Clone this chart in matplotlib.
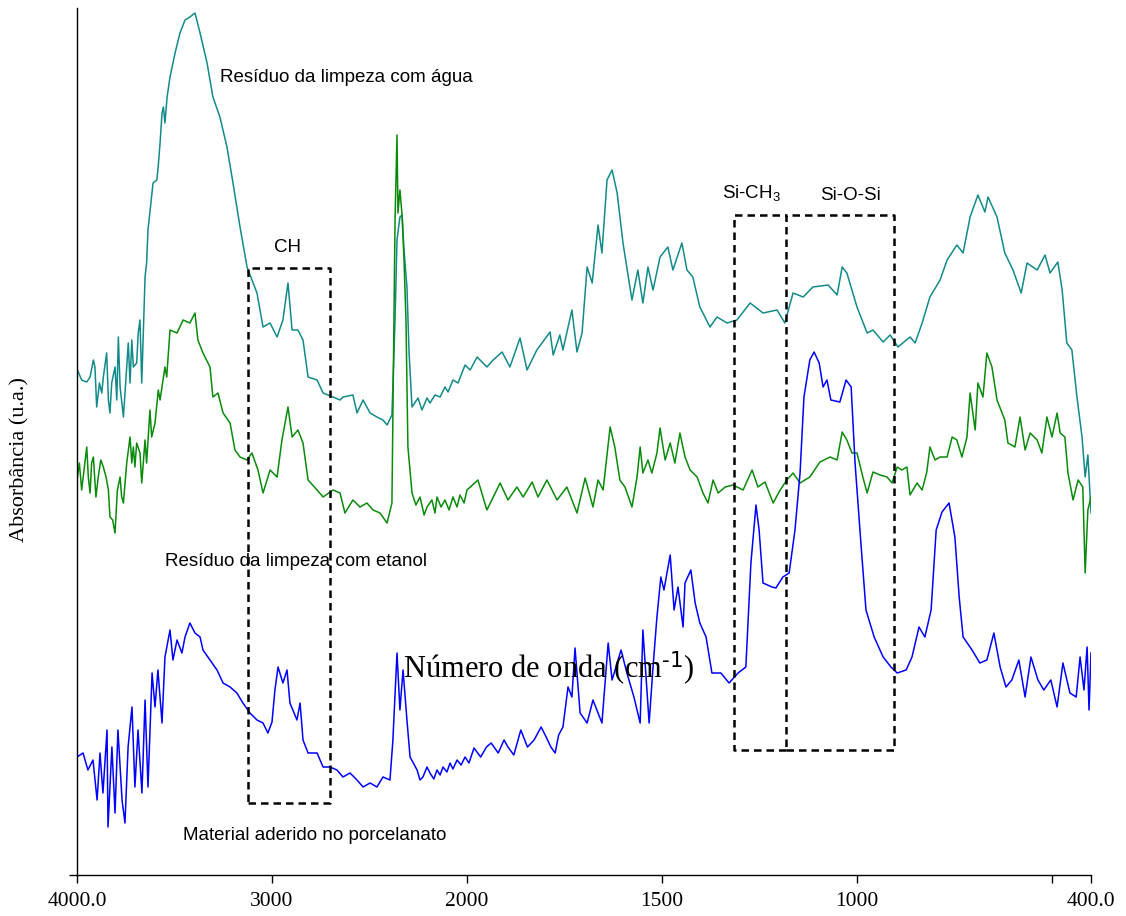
import numpy as np
import matplotlib
matplotlib.use("Agg")
import matplotlib.pyplot as plt
from matplotlib.ticker import FixedLocator

plt.rcParams['mathtext.default'] = 'regular'

# ---------------- data (wavenumber in cm-1, absorbance in a.u.) ----------------
agua_wn = [4000, 3976, 3950, 3933, 3916, 3908, 3899, 3885, 3873, 3865,
           3848, 3839, 3831, 3822, 3805, 3796, 3788, 3779, 3762, 3754,
           3737, 3728, 3719, 3711, 3694, 3686, 3677, 3668, 3660, 3651,
           3643, 3636, 3610, 3591, 3585, 3574, 3564, 3557, 3549, 3538,
           3523, 3497, 3472, 3446, 3421, 3395, 3369, 3333, 3303,
           3267, 3231, 3200, 3164, 3128, 3077, 3046, 3010, 2974, 2944,
           2918, 2897, 2867, 2841, 2815, 2769, 2738, 2687, 2651, 2636,
           2585, 2564, 2533, 2497, 2462, 2431, 2410, 2385, 2369, 2359,
           2344, 2333, 2323, 2308, 2297, 2282, 2251, 2231, 2205, 2190,
           2164, 2138, 2113, 2097, 2072, 2046, 2010, 1992,
           1974, 1949, 1933, 1910, 1890, 1864, 1846, 1821,
           1787, 1779, 1762, 1754, 1731, 1718, 1705, 1692, 1679, 1664,
           1654, 1641, 1628, 1615, 1600, 1577, 1562, 1549, 1536, 1523,
           1505, 1485, 1472, 1449, 1436, 1421, 1403, 1377, 1359, 1333,
           1308, 1274, 1241, 1205, 1185, 1164, 1138, 1113, 1074, 1051,
           1038, 1026, 1000, 974, 959, 933, 915, 895, 864, 851,
           833, 813, 787, 769, 744, 728, 710, 690, 672, 664,
           641, 621, 600, 579, 564, 538, 518, 505, 485, 474,
           462, 449, 436, 423, 415, 408, 400]
agua_abs = [506, 495, 493, 498, 515, 508, 468, 492, 482, 498,
            522, 475, 462, 492, 508, 475, 538, 488, 458, 482,
            532, 492, 535, 508, 512, 542, 555, 492, 542, 598,
            612, 645, 692, 695, 705, 732, 762, 768, 752, 778,
            798, 822, 842, 855, 858, 862, 842, 812, 778,
            758, 728, 692, 648, 608, 582, 548, 552, 538, 555,
            592, 545, 545, 535, 498, 495, 482, 478, 475, 478,
            480, 462, 475, 462, 458, 455, 450, 460, 555, 635,
            658, 660, 625, 588, 522, 468, 477, 465, 477, 472,
            480, 478, 488, 483, 495, 492, 510, 505,
            518, 508, 515, 523, 508, 537, 505, 525,
            543, 520, 540, 525, 565, 523, 542, 608, 592, 650,
            622, 695, 705, 682, 632, 575, 605, 572, 608, 585,
            618, 628, 605, 632, 605, 598, 568, 548, 558, 552,
            555, 572, 562, 565, 552, 582, 578, 588, 590, 580,
            608, 602, 568, 542, 545, 533, 540, 528, 538, 532,
            552, 578, 595, 615, 630, 622, 658, 680, 663, 678,
            658, 622, 605, 582, 612, 605, 620, 602, 613, 585,
            532, 525, 478, 438, 398, 420, 362]

etanol_wn = [4000, 3988, 3976, 3964, 3950, 3942, 3933, 3925, 3916, 3903,
             3891, 3878, 3865, 3851, 3839, 3831, 3817, 3805, 3793, 3779,
             3771, 3762, 3745, 3728, 3719, 3711, 3703, 3694, 3677, 3668,
             3651, 3643, 3626, 3617, 3600, 3583, 3574, 3549, 3540, 3523,
             3487, 3456, 3421, 3395, 3380, 3354, 3318, 3303,
             3277, 3251, 3215, 3190, 3164, 3128, 3103, 3072, 3046, 3010,
             2974, 2949, 2918, 2897, 2867, 2841, 2815, 2769, 2738, 2687,
             2651, 2626, 2585, 2549, 2513, 2482, 2446, 2410, 2385, 2369,
             2359, 2354, 2344, 2333, 2323, 2313, 2303, 2282, 2262, 2241,
             2220, 2205, 2180, 2164, 2154, 2133, 2113, 2092, 2072, 2051,
             2036, 2015, 2000, 1972, 1949, 1915, 1895, 1872,
             1856, 1833, 1818, 1795, 1769, 1744, 1718, 1697, 1677, 1664,
             1651, 1633, 1621, 1608, 1595, 1577, 1564, 1556, 1549, 1536,
             1526, 1513, 1505, 1492, 1479, 1467, 1454, 1441, 1428, 1410,
             1395, 1382, 1369, 1356, 1338, 1318, 1292, 1269, 1254, 1236,
             1215, 1197, 1180, 1164, 1146, 1121, 1095, 1069, 1051, 1038,
             1026, 1013, 1000, 985, 974, 959, 941, 923, 910, 897,
             885, 872, 864, 846, 833, 821, 813, 800, 787, 769,
             756, 744, 731, 718, 710, 697, 690, 677, 667, 654,
             641, 621, 613, 595, 582, 569, 556, 538, 526, 513,
             500, 487, 479, 467, 459, 446, 433, 421, 415, 408,
             400]
etanol_abs = [395, 412, 385, 405, 428, 398, 382, 412, 418, 378,
              398, 415, 408, 398, 385, 358, 355, 342, 385, 398,
              378, 372, 412, 438, 412, 428, 408, 432, 422, 392,
              435, 412, 465, 438, 452, 485, 475, 508, 498, 545,
              542, 555, 552, 562, 535, 522, 508, 478,
              482, 462, 452, 425, 418, 415, 422, 405, 382, 405,
              398, 435, 468, 438, 445, 432, 395, 385, 378, 385,
              382, 362, 375, 368, 372, 365, 362, 352, 372, 655,
              740, 662, 685, 660, 615, 555, 428, 382, 370, 378,
              360, 368, 375, 362, 378, 368, 375, 365, 378, 368,
              380, 372, 385, 395, 365, 392, 375, 388,
              378, 393, 378, 395, 375, 388, 362, 397, 368, 395,
              385, 448, 428, 395, 388, 368, 398, 428, 402, 415,
              402, 422, 447, 415, 432, 412, 442, 418, 405, 398,
              382, 372, 395, 382, 388, 390, 385, 405, 388, 393,
              372, 385, 395, 402, 392, 398, 413, 418, 415, 443,
              435, 422, 422, 398, 382, 403, 400, 398, 392, 408,
              405, 408, 380, 392, 385, 403, 428, 415, 418, 418,
              438, 435, 418, 438, 482, 445, 492, 478, 522, 508,
              475, 455, 432, 428, 458, 425, 442, 435, 422, 458,
              438, 462, 442, 438, 402, 375, 395, 388, 302, 365,
              378]

porcelanato_wn = [4000, 3969, 3944, 3918, 3897, 3882, 3867, 3846, 3841, 3821,
                  3805, 3790, 3769, 3754, 3738, 3718, 3703, 3687, 3667, 3651,
                  3636, 3615, 3600, 3585, 3564, 3549, 3523, 3508, 3487, 3462,
                  3446, 3421, 3395, 3369, 3354, 3318, 3282, 3251, 3215, 3180,
                  3149, 3113, 3077, 3046, 3021, 3000, 2985, 2969, 2944, 2923,
                  2908, 2872, 2856, 2841, 2815, 2769, 2738, 2703, 2667, 2636,
                  2600, 2564, 2533, 2497, 2462, 2431, 2395, 2380, 2359, 2344,
                  2328, 2308, 2292, 2256, 2241, 2226, 2205, 2190, 2170, 2154,
                  2138, 2123, 2103, 2087, 2072, 2051, 2030, 2010, 1995, 1982,
                  1965, 1950, 1938, 1920, 1905, 1895, 1880, 1862, 1845, 1828,
                  1810, 1797, 1785, 1774, 1765, 1754, 1741, 1731,
                  1723, 1710, 1692, 1677, 1654, 1638, 1628, 1605, 1590, 1572,
                  1556, 1549, 1533, 1523, 1513, 1503, 1495, 1479, 1469, 1459,
                  1446, 1441, 1426, 1415, 1403, 1387, 1372, 1349, 1328, 1305,
                  1285, 1272, 1259, 1251, 1241, 1218, 1208, 1190, 1174, 1159,
                  1146, 1136, 1121, 1110, 1097, 1087, 1077, 1067, 1044, 1028,
                  1015, 1005, 990, 977, 956, 933, 913, 897, 874, 859,
                  841, 826, 810, 797, 782, 764, 749, 738, 728, 705,
                  685, 667, 649, 633, 618, 603, 585, 569, 554, 536,
                  521, 503, 487, 472, 454, 438, 428, 418, 410, 405,
                  400]
porcelanato_abs = [118, 122, 105, 115, 75, 122, 82, 145, 48, 128,
                   62, 145, 75, 52, 128, 168, 88, 145, 82, 175,
                   88, 202, 168, 205, 152, 218, 245, 215, 235, 222,
                   238, 252, 242, 238, 225, 215, 205, 192, 188, 182,
                   172, 162, 155, 152, 142, 153, 185, 208, 192, 205,
                   172, 155, 172, 135, 122, 122, 108, 108, 105, 98,
                   102, 95, 88, 92, 88, 98, 95, 135, 222, 165,
                   205, 155, 118, 105, 95, 98, 108, 102, 96, 105,
                   100, 108, 103, 112, 106, 115, 110, 118, 112, 127,
                   118, 128, 132, 122, 135, 128, 120, 145, 128, 135,
                   148, 138, 128, 122, 140, 148, 188, 178,
                   227, 162, 152, 175, 152, 232, 195, 225, 202, 178,
                   152, 245, 152, 208, 258, 298, 285, 320, 265, 288,
                   248, 292, 305, 272, 252, 238, 202, 202, 192, 202,
                   208, 312, 370, 345, 292, 288, 287, 298, 302, 345,
                   402, 478, 515, 523, 512, 488, 495, 475, 473, 495,
                   488, 412, 332, 265, 238, 218, 208, 202, 205, 218,
                   248, 238, 265, 345, 363, 372, 338, 278, 238, 225,
                   212, 215, 242, 208, 188, 195, 215, 178, 218, 195,
                   185, 195, 168, 212, 182, 178, 218, 185, 228, 165,
                   222]

# band boxes (wavenumber ranges, absorbance ranges)
ch_band = (3123, 2703, 72, 607)
sich3_band = (1315, 1183, 125, 660)
siosi_band = (1183, 905, 125, 660)

tick_values = [4000, 3000, 2000, 1500, 1000, 500, 400]
tick_labels = ['4000.0', '3000', '2000', '1500', '1000', '', '400.0']


# ---------------- x scale: 4000-2000 compressed by a factor of 2 ----------------
def fwd(w):
    w = np.asarray(w, dtype=float)
    return np.where(w <= 2000, w - 2000, (w - 2000) * 0.5)


def inv(u):
    u = np.asarray(u, dtype=float)
    return np.where(u <= 0, u + 2000, 2000 + 2 * u)


fig = plt.figure(figsize=(11.26, 9.16), dpi=100)
ax = fig.add_axes([77 / 1126, 41 / 916, 1014 / 1126, 867 / 916])
ax.set_xscale('function', functions=(fwd, inv))
ax.set_xlim(4000, 400)
ax.set_ylim(0, 867)

ax.plot(agua_wn, agua_abs, color='#138a8a', lw=1.1)
ax.plot(etanol_wn, etanol_abs, color='#0a8a0a', lw=1.1)
ax.plot(porcelanato_wn, porcelanato_abs, color='#0000ff', lw=1.1)

dash = dict(color='black', lw=1.8, ls=(0, (3, 2)))
for (x0, x1, y0, y1) in (ch_band, siosi_band):
    ax.plot([x0, x1, x1, x0, x0], [y0, y0, y1, y1, y0], **dash)
# Si-CH3 box shares its right edge with the Si-O-Si box
x0, x1, y0, y1 = sich3_band
ax.plot([x1, x0, x0, x1], [y0, y0, y1, y1], **dash)

for s in ('top', 'right'):
    ax.spines[s].set_visible(False)
for s in ('left', 'bottom'):
    ax.spines[s].set_linewidth(1.0)

ax.xaxis.set_major_locator(FixedLocator(tick_values))
ax.set_xticklabels(tick_labels, fontfamily='Liberation Serif', fontsize=15.5)
ax.xaxis.set_minor_locator(FixedLocator([]))
ax.set_yticks([0])
ax.set_yticklabels([''])
ax.tick_params(axis='both', direction='out', length=6, width=1, pad=6)

sans = 'Liberation Sans'
ax.text(3267, 798, 'Resíduo da limpeza com água', fontfamily=sans,
        fontsize=13.5, va='center', ha='left')
ax.text(3549, 313, 'Resíduo da limpeza com etanol', fontfamily=sans,
        fontsize=13.5, va='center', ha='left')
ax.text(3456, 40, 'Material aderido no porcelanato', fontfamily=sans,
        fontsize=13.5, va='center', ha='left')
ax.text(2923, 627, 'CH', fontfamily=sans, fontsize=13.5, va='center',
        ha='center')
ax.text(1346, 682, 'Si-CH$_3$', fontfamily=sans, fontsize=13.5,
        va='center', ha='left')
ax.text(1095, 680, 'Si-O-Si', fontfamily=sans, fontsize=13.5,
        va='center', ha='left')
ax.text(2328, 207, r'Número de onda (cm$^{\text{-1}}$)',
        fontfamily='Liberation Serif', fontsize=22, va='center', ha='left')

fig.text(20 / 1126, 1 - 460 / 916, 'Absorbância (u.a.)',
         fontfamily='Liberation Serif', fontsize=16, rotation=90,
         va='center', ha='center')

fig.savefig('out.png', dpi=100)
